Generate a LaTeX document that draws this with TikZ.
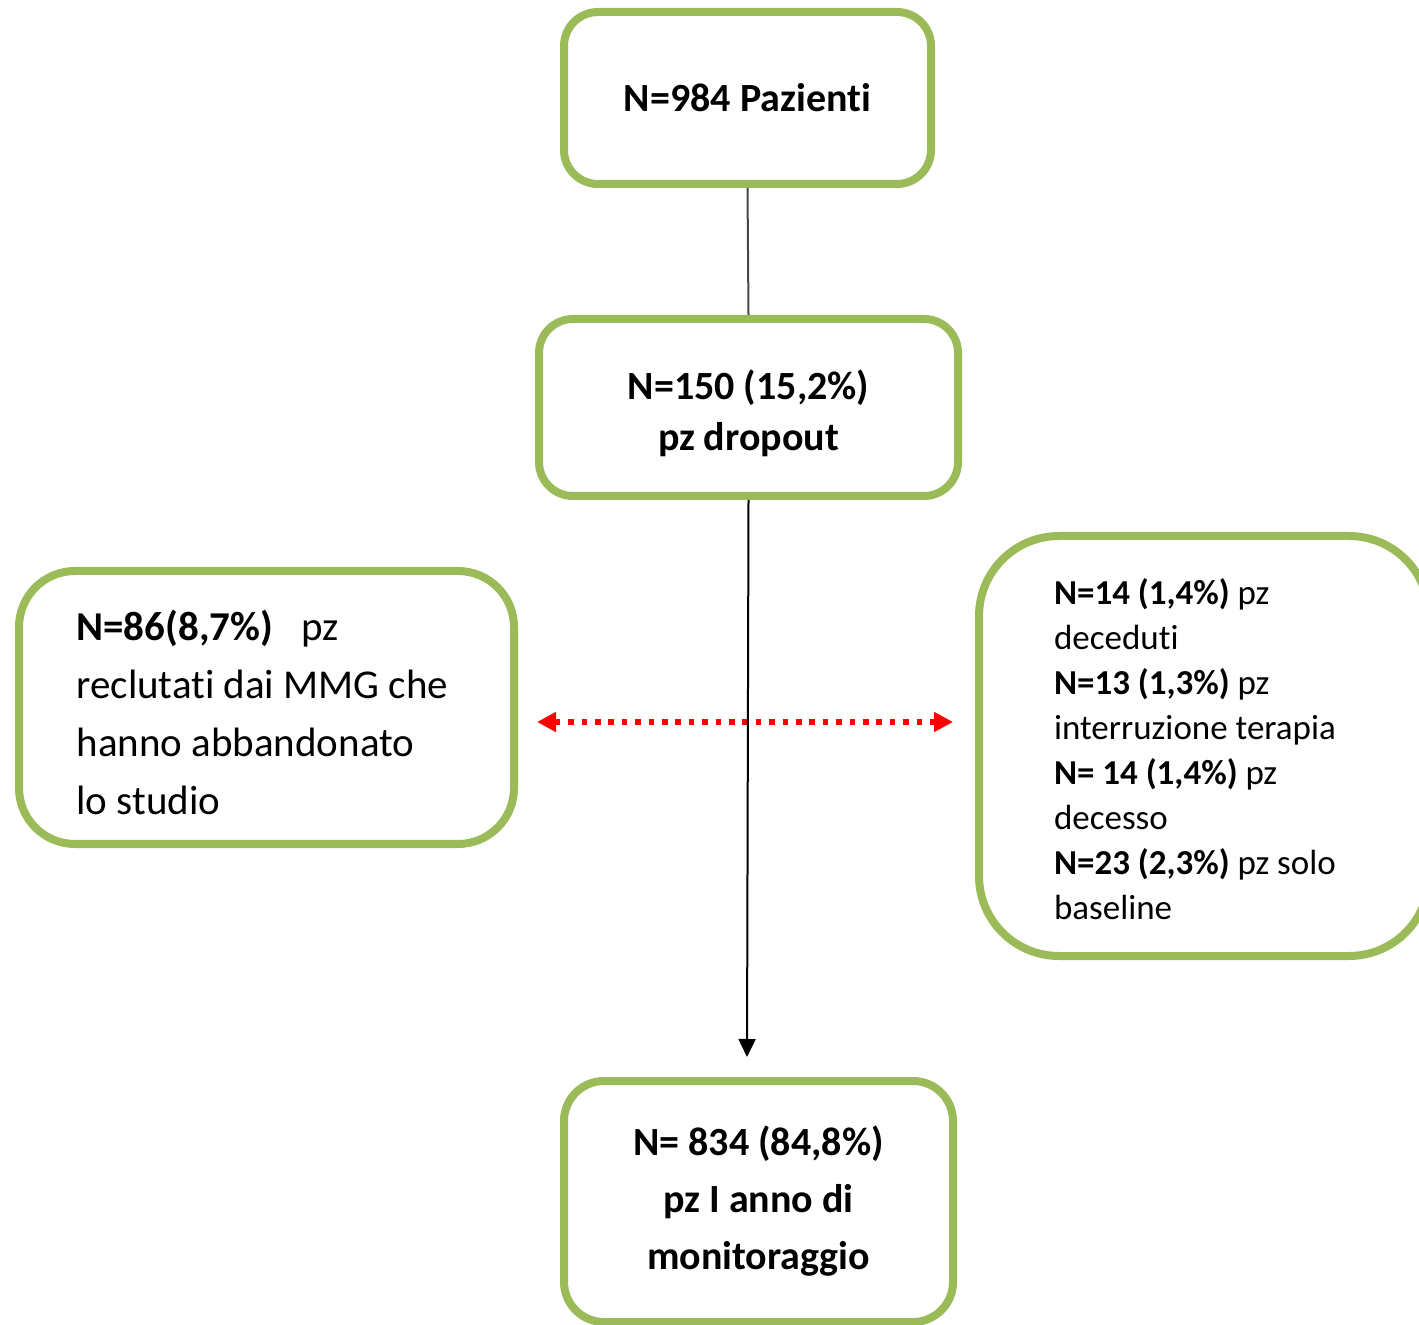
\documentclass[tikz,border=0pt]{standalone}
\usepackage{fontspec}
\setmainfont{Carlito}[Ligatures=NoCommon]
\usetikzlibrary{arrows.meta}
\definecolor{boxgreen}{RGB}{155,187,89}
\definecolor{connGray}{RGB}{70,70,70}
\begin{document}
\begin{tikzpicture}[x=0.5pt,y=-0.5pt,
  box/.style={draw=boxgreen, line width=4pt, fill=white, inner sep=0pt},
  conn/.style={draw=connGray, line width=1pt},
  redarrow/.style={draw=red, line width=2.8pt, dash pattern=on 2.8pt off 3.9pt,
    {Triangle[length=9.5pt,width=9.5pt]}-{Triangle[length=9.5pt,width=9.5pt]}}]
\useasboundingbox (0,0) rectangle (1419,1325);

\node[box, rounded corners=17pt, minimum width=183.5pt, minimum height=86pt,
  font=\fontsize{20}{23}\selectfont\bfseries] (top) at (747.5,98) {N=984 Pazienti};

\node[box, rounded corners=17pt, minimum width=209.5pt, minimum height=88.5pt,
  align=center, font=\fontsize{20}{25.5}\selectfont\bfseries] (drop) at (748.5,407.5)
  {\rule{0pt}{21pt}N=150 (15,2\%)\\pz dropout};

\node[box, rounded corners=28pt, minimum width=247.5pt, minimum height=136.5pt,
  align=flush left, text width=190pt, font=\fontsize{20.5}{29}\selectfont] (left) at (266.5,707.5)
  {\rule{0pt}{20.5pt}\textbf{N=86(8,7\%)}\hspace{0.7em}pz\\reclutati dai MMG che\\hanno abbandonato\\lo studio};

\node[box, rounded corners=40pt, minimum width=225pt, minimum height=210pt,
  align=flush left, text width=150pt, font=\fontsize{17.5}{22.5}\selectfont] (right) at (1204,746)
  {\rule{0pt}{16pt}\textbf{N=14 (1,4\%)} pz\\deceduti\\\textbf{N=13 (1,3\%)} pz\\interruzione terapia\\\textbf{N= 14 (1,4\%)} pz\\decesso\\\textbf{N=23 (2,3\%)} pz solo\\baseline};

\node[box, rounded corners=20pt, minimum width=194.5pt, minimum height=120.5pt,
  align=center, font=\fontsize{20}{28.5}\selectfont\bfseries] (bottom) at (758.5,1201.5)
  {N= 834 (84,8\%)\\pz I anno di\\monitoraggio};

\coordinate (rl) at (537,722);
\coordinate (rr) at (953,722);
\coordinate (arrowend) at (747,1057);

\draw[redarrow] (rl) -- (rr);
\draw[conn] (top.south) -- (drop.north);
\draw[conn, draw=black, -{Triangle[length=9pt,width=8.5pt]}] (drop.south) -- (arrowend);
\end{tikzpicture}
\end{document}
